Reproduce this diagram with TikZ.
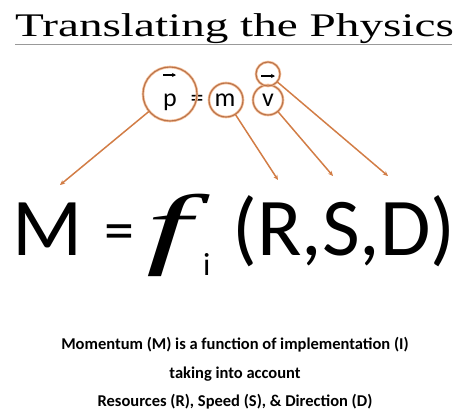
\documentclass[tikz,border=0pt]{standalone}
\usepackage{fontspec}
\setmainfont{Carlito}
\newfontfamily\titlefont{Liberation Serif}
\usetikzlibrary{arrows.meta}
\definecolor{ring}{RGB}{185,115,75}
\definecolor{halo}{RGB}{245,190,150}
\definecolor{link}{RGB}{210,125,70}
\tikzset{
  ringc/.style={circle,draw=ring,line width=1.1pt,inner sep=0pt,minimum size=#1,
    preaction={draw=halo,line width=2.6pt}},
  linkc/.style={draw=link,line width=1.5pt,-{Stealth[length=5pt,width=4.5pt]}},
  sym/.style={font=\fontsize{26}{26}\selectfont,inner sep=0pt,anchor=base},
  big/.style={font=\fontsize{82}{82}\selectfont,inner sep=0pt,anchor=base west},
  note/.style={font=\bfseries\fontsize{16.5}{16.5}\selectfont,inner sep=0pt,anchor=base}
}
\begin{document}
\begin{tikzpicture}[x=1pt,y=-1pt]
\useasboundingbox (0,0) rectangle (459,413);
% title
\node[font=\titlefont\fontsize{33}{33}\selectfont,inner sep=0pt,anchor=base west] (title) at (15,36) {\scalebox{1.43}[1]{Translating the Physics}};
\draw[gray!80,line width=1.6pt] (15,44.5) -- (452,44.5);
% top equation
\node[sym] (p) at (170,106) {p};
\node[sym] (eq) at (197,106) {=};
\node[sym] (m) at (225,106) {m};
\node[sym] (v) at (268,106) {v};
\draw[line width=1.6pt,-{Stealth[length=4pt,width=4pt]}] (163,75) -- (176,75);
\draw[line width=1.6pt,-{Stealth[length=4pt,width=4pt]}] (261,76) -- (275,76);
\node[ringc=54pt] (cp) at (170,94) {};
\node[ringc=34pt] (cm) at (226,100) {};
\node[ringc=30pt] (cv) at (268,100) {};
\node[ringc=24pt] (ca) at (268,74) {};
% targets
\coordinate (t1) at (60,185);
\coordinate (t2) at (278,180);
\coordinate (t3) at (333,176);
\coordinate (t4) at (388,176);
\draw[linkc] (cp) -- (t1);
\draw[linkc] (cm) -- (t2);
\draw[linkc] (cv) -- (t3);
\draw[linkc] (ca) -- (t4);
% formula
\node[big] (M) at (12,255) {M};
\node[font=\fontsize{60}{60}\selectfont,inner sep=0pt,anchor=base west] (feq) at (104,250) {=};
\node[font=\titlefont\itshape\fontsize{90}{90}\selectfont,inner sep=0pt,anchor=base west] (f) at (146,257) {\scalebox{1.8}[1]{f}};
\node[font=\fontsize{32}{32}\selectfont,inner sep=0pt,anchor=base west] (i) at (203,275) {i};
\node[big] (args) at (232,255) {(R,S,D)};
% notes
\node[note] (n1) at (235,349) {Momentum (M) is a function of implementation (I)};
\node[note] (n2) at (235,378) {taking into account};
\node[note] (n3) at (235,406) {Resources (R), Speed (S), \& Direction (D)};
\end{tikzpicture}
\end{document}
